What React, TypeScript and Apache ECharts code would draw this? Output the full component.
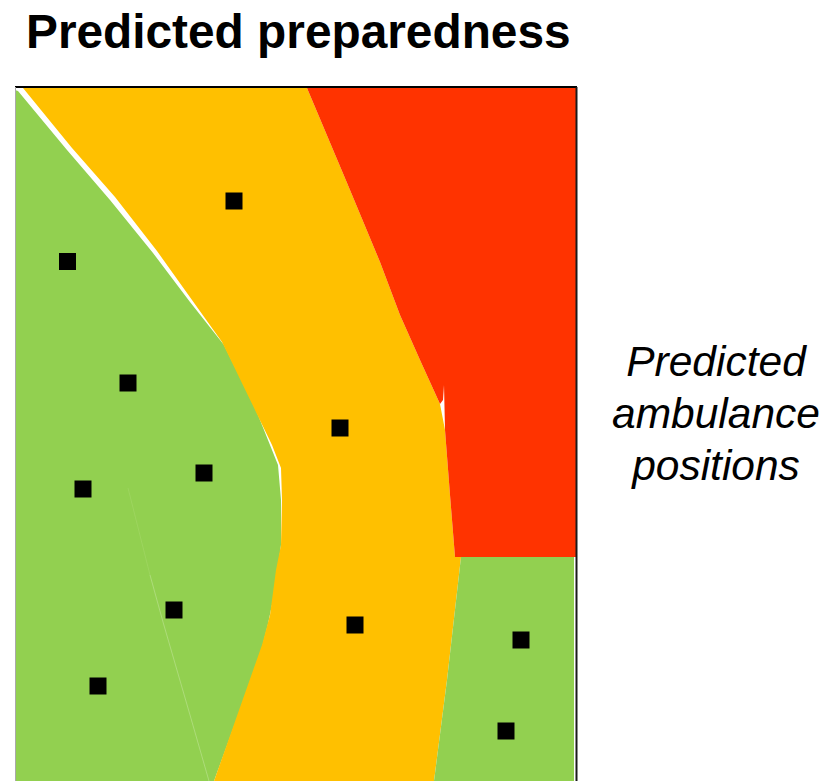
import React, { useEffect, useRef } from "react";
import * as echarts from "echarts";

const titleText = "Predicted preparedness";
const sideText = "Predicted\nambulance\npositions";

const GREEN = "#92D050";
const YELLOW = "#FFC000";
const RED = "#FF3300";

const greenLeft = [
  [15, 90], [18, 91], [67, 150], [110, 200], [153, 253], [190, 302], [224, 345], [254, 405],
  [278, 465], [281, 500], [281, 545], [275, 590], [268, 624], [262, 648], [240, 710], [214, 781], [15, 781],
];
const yellowBand = [
  [23, 88], [307, 88], [350, 190], [380, 262], [400, 315], [420, 360], [440, 404], [445, 430],
  [450, 495], [455, 557], [461, 557], [447, 680], [434, 781], [214, 781], [262, 645], [270, 615],
  [276, 570], [281, 545], [282, 500], [281, 468], [272, 445], [222, 342], [192, 300], [157, 251], [115, 197], [72, 148],
];
const redZone = [
  [307, 88], [576, 88], [576, 557], [455, 557], [450, 495], [445, 430], [444, 385], [443, 400], [440, 404],
  [420, 360], [400, 315], [380, 262], [350, 190],
];
const greenRight = [[461, 557], [574, 557], [574, 781], [434, 781], [447, 680]];
const regions = [
  { points: greenLeft, color: GREEN },
  { points: yellowBand, color: YELLOW },
  { points: redZone, color: RED },
  { points: greenRight, color: GREEN },
];

const seamUpper = [[128, 488], [150, 575]];
const seamLower = [[150, 575], [163, 622], [190, 715], [209, 781]];
const seams = [
  { points: seamUpper, color: "#9FD662" },
  { points: seamLower, color: "#B4DE84" },
];

const frameTop = [[15, 87], [577, 87]];
const frameRight = [[576.5, 87], [576.5, 781]];
const frameLeft = [[15.5, 87], [15.5, 781]];
const frames = [
  { points: frameTop, color: "#000000", width: 2 },
  { points: frameRight, color: "#1a1a1a", width: 2 },
  { points: frameLeft, color: "#a9a9a9", width: 1 },
];

const ambulances = [
  [234, 201], [67.5, 261.5], [128, 383], [340, 428], [83, 489], [204, 473],
  [174, 610], [355, 625], [98, 686], [521, 640], [506, 731],
];

export default function App() {
  const ref = useRef<HTMLDivElement>(null);
  useEffect(() => {
    document.body.style.margin = "0";
    const chart = echarts.init(ref.current!, null, { renderer: "svg" });
    chart.setOption({
      animation: false,
      backgroundColor: "#ffffff",
      title: {
        text: titleText,
        left: 26,
        top: 7,
        padding: 0,
        textStyle: { fontFamily: "Liberation Sans", fontSize: 47.8, fontWeight: "bold", color: "#000000" },
      },
      grid: { left: 16, right: 263, top: 87, bottom: 0 },
      xAxis: { type: "value", min: 16, max: 576, show: false },
      yAxis: { type: "value", min: 87, max: 781, inverse: true, show: false },
      graphic: [
        {
          type: "text",
          x: 716,
          y: 335,
          style: {
            text: sideText,
            fill: "#000000",
            align: "center",
            verticalAlign: "top",
            font: "italic 42.5px 'Liberation Sans'",
            lineHeight: 52,
          },
        },
      ],
      series: [
        {
          type: "custom",
          coordinateSystem: "cartesian2d",
          clip: false,
          silent: true,
          z: 1,
          data: regions.map((_, i) => [i]),
          renderItem: (params: any, api: any) => {
            const r = regions[params.dataIndex];
            return {
              type: "polygon",
              shape: { points: r.points.map((p) => api.coord(p)) },
              style: { fill: r.color, stroke: "none" },
            };
          },
        },
        {
          type: "custom",
          coordinateSystem: "cartesian2d",
          clip: false,
          silent: true,
          z: 2,
          data: seams.map((_, i) => [i]),
          renderItem: (params: any, api: any) => {
            const s = seams[params.dataIndex];
            return {
              type: "polyline",
              shape: { points: s.points.map((p) => api.coord(p)) },
              style: { fill: "none", stroke: s.color, lineWidth: 0.8 },
            };
          },
        },
        {
          type: "custom",
          coordinateSystem: "cartesian2d",
          clip: false,
          silent: true,
          z: 3,
          data: frames.map((_, i) => [i]),
          renderItem: (params: any, api: any) => {
            const f = frames[params.dataIndex];
            return {
              type: "polyline",
              shape: { points: f.points.map((p) => api.coord(p)) },
              style: { fill: "none", stroke: f.color, lineWidth: f.width },
            };
          },
        },
        {
          type: "scatter",
          symbol: "rect",
          symbolSize: 17,
          clip: false,
          silent: true,
          z: 4,
          itemStyle: { color: "#000000", opacity: 1 },
          data: ambulances,
        },
      ],
    });
    return () => chart.dispose();
  }, []);
  return <div ref={ref} style={{ width: 839, height: 781, display: "block", overflow: "hidden" }} />;
}
